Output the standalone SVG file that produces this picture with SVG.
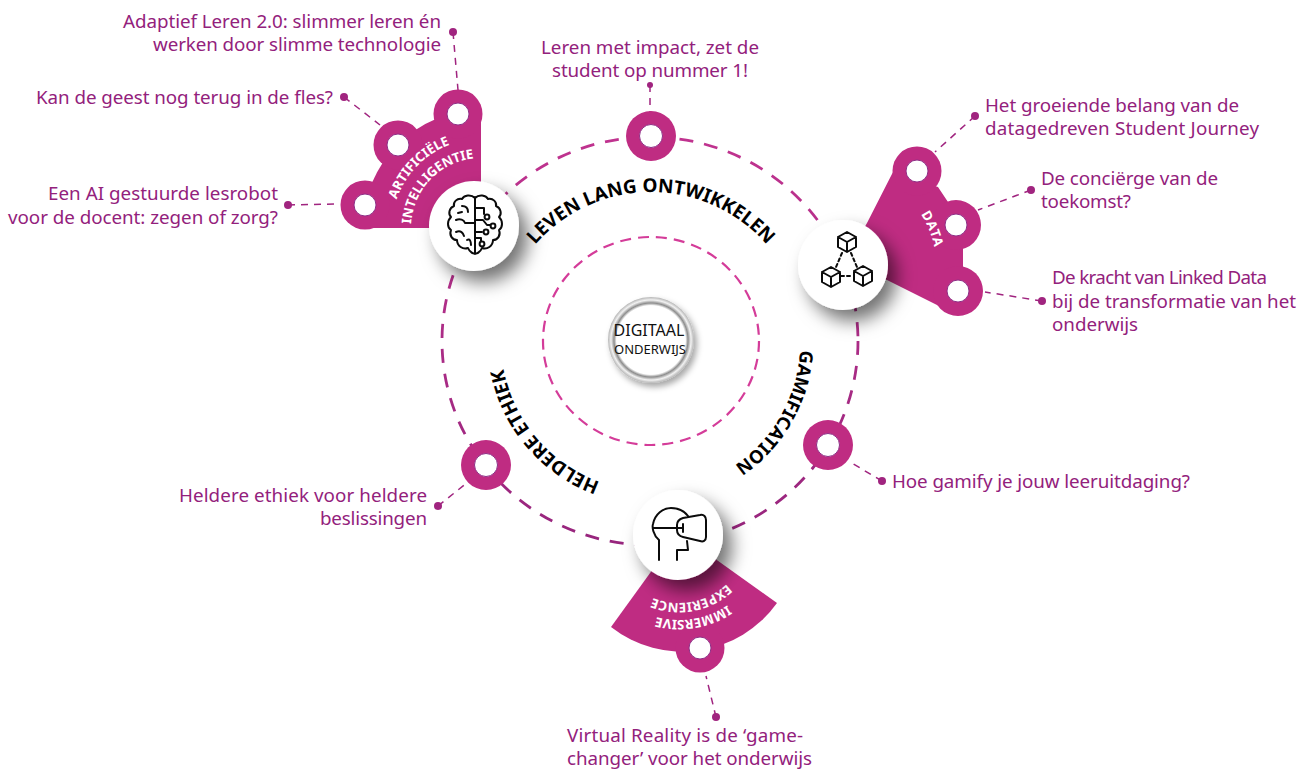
<svg xmlns="http://www.w3.org/2000/svg" width="1305" height="770" viewBox="0 0 1305 770">
<style>
.t{font-family:"Noto Sans","Open Sans",sans-serif;font-size:18.8px;fill:#93217c}
.h{font-family:"Noto Sans","Open Sans",sans-serif;font-size:19px;font-weight:700;fill:#000}
.w{font-family:"Noto Sans","Open Sans",sans-serif;font-size:13.2px;font-weight:700;fill:#fff}
.m{fill:#bf2c82}
.ring{fill:#fff;stroke:#8e2e86;stroke-width:1}
.lead{stroke:#a0247f;stroke-width:1.5;stroke-dasharray:7 6;fill:none}
.dot{fill:#a0247f}
.ic{fill:none;stroke:#0b0b0b;stroke-width:2;stroke-linecap:round;stroke-linejoin:round}
.disc{fill:#fff;filter:url(#sh)}
</style>
<defs>
<filter id="sh" x="-40%" y="-40%" width="190%" height="190%"><feDropShadow dx="9" dy="11" stdDeviation="9" flood-color="#000" flood-opacity="0.55"/></filter>
<filter id="sh2" x="-30%" y="-30%" width="170%" height="170%"><feDropShadow dx="3" dy="4" stdDeviation="3" flood-color="#000" flood-opacity="0.35"/></filter>
<radialGradient id="silver"><stop offset="0.8" stop-color="#fff"/><stop offset="0.86" stop-color="#8d8d8d"/><stop offset="0.93" stop-color="#f2f2f2"/><stop offset="1" stop-color="#b4b4b4"/></radialGradient>
<linearGradient id="outer" gradientUnits="userSpaceOnUse" x1="650" y1="137" x2="650" y2="545"><stop offset="0" stop-color="#c0338f"/><stop offset="1" stop-color="#97257d"/></linearGradient>
<path id="pLeven" d="M499 342A152 150 0 0 1 803 342"/>
<path id="pGam" d="M800 350A149 149 0 0 1 651 491"/>
<path id="pHel" d="M600 482A150 150 0 0 1 501 342"/>
<path id="pArt" d="M392 228A89 89 0 0 1 481 139"/>
<path id="pInt" d="M411 228A70 70 0 0 1 481 158"/>
<path id="pData" d="M843 172A93 93 0 0 1 843 358"/>
<path id="pExp" d="M749 533A70 70 0 0 1 609 533"/>
<path id="pImm" d="M766 533A87 87 0 0 1 592 533"/>
<g id="cube"><path class="ic" d="M0-10L9-5V5L0 10L-9 5V-5ZM-9-5L0 0L9-5M0 0V10"/></g>
</defs>

<g id="connectors">
<ellipse cx="650" cy="341" rx="208" ry="204" fill="none" stroke="url(#outer)" stroke-width="2.8" stroke-dasharray="14 11"/>
<ellipse cx="651" cy="341" rx="108" ry="104" fill="none" stroke="#d43c99" stroke-width="2.2" stroke-dasharray="11 7"/>
<path class="lead" d="M453 32L458 90"/>
<path class="lead" d="M344 97L380 125"/>
<path class="lead" d="M288 205L340 204"/>
<path class="lead" d="M650 85L650 112"/>
<path class="lead" d="M975 116L935 152"/>
<path class="lead" d="M1031 190L978 210"/>
<path class="lead" d="M1042 301L985 292"/>
<path class="lead" d="M882 481L850 462"/>
<path class="lead" d="M438 506L468 482"/>
<path class="lead" d="M716 717L706 676"/>
<circle class="dot" cx="453" cy="32" r="4"/><circle class="dot" cx="344" cy="97" r="4"/><circle class="dot" cx="288" cy="205" r="4"/>
<circle class="dot" cx="650" cy="85" r="3"/><circle class="dot" cx="975" cy="116" r="4"/><circle class="dot" cx="1031" cy="190" r="4"/>
<circle class="dot" cx="1042" cy="301" r="4"/><circle class="dot" cx="882" cy="481" r="4"/><circle class="dot" cx="438" cy="506" r="4"/><circle class="dot" cx="716" cy="717" r="4"/>
</g>

<g id="node-center">
<circle cx="651" cy="340" r="43" fill="url(#silver)" filter="url(#sh2)"/>
<text x="649" y="336" text-anchor="middle" font-family="Noto Sans,sans-serif" font-size="16" fill="#111">DIGITAAL</text>
<text x="650" y="354" text-anchor="middle" font-family="Noto Sans,sans-serif" font-size="13" fill="#111">ONDERWIJS</text>
</g>

<g id="labels-arc">
<text class="h"><textPath href="#pLeven" startOffset="50%" text-anchor="middle">LEVEN LANG ONTWIKKELEN</textPath></text>
<text class="h" style="font-size:18.3px"><textPath href="#pGam">GAMIFICATION</textPath></text>
<text class="h"><textPath href="#pHel">HELDERE ETHIEK</textPath></text>
</g>

<g id="node-top"><circle class="m" cx="651" cy="136" r="25"/><circle class="ring" cx="651" cy="136" r="11.5"/><text class="t" x="541" y="54" textLength="218">Leren met impact, zet de</text><text class="t" x="552" y="77" textLength="196">student op nummer 1!</text></g>
<g id="node-gam"><circle class="m" cx="828" cy="445" r="25"/><circle class="ring" cx="828" cy="445" r="11.5"/><text class="t" x="892" y="488" textLength="298">Hoe gamify je jouw leeruitdaging?</text></g>
<g id="node-eth"><circle class="m" cx="486" cy="465" r="25"/><circle class="ring" cx="486" cy="465" r="11.5"/><text class="t" x="179" y="502" textLength="248">Heldere ethiek voor heldere</text><text class="t" x="320" y="525" textLength="107">beslissingen</text></g>

<g id="node-ai">
<path class="m" d="M481 228V110A118 118 0 0 0 363 228Z"/>
<circle class="m" cx="458" cy="114" r="24.5"/><circle class="m" cx="398" cy="145" r="24.5"/><circle class="m" cx="365" cy="205" r="24.5"/>
<circle class="ring" cx="458" cy="114" r="11"/><circle class="ring" cx="398" cy="145" r="11"/><circle class="ring" cx="365" cy="205" r="11"/>
<text class="w"><textPath href="#pArt" startOffset="29">ARTIFICIËLE</textPath></text>
<text class="w"><textPath href="#pInt" startOffset="4">INTELLIGENTIE</textPath></text>
<circle class="disc" cx="474" cy="226" r="45"/>
<path class="ic" d="M475 197V254M475 198C471 194 464 195 462 199C457 198 453 202 454 206C449 208 448 214 451 217C447 221 447 227 451 230C449 235 452 240 457 240C457 246 463 250 468 248C470 253 474 254 475 253M475 198C479 194 486 195 488 199C493 198 497 202 496 206C501 208 502 214 499 217C503 221 503 227 499 230C501 235 498 240 493 240C493 246 487 250 482 248C480 253 476 254 475 253"/>
<path class="ic" d="M475 208H484V214M475 220H483L487 225H490M475 232H482M475 238H481V241M462 206C466 206 468 208 468 212M456 220C460 218 464 220 465 223H475M456 232C461 230 463 233 464 236M467 240C470 238 471 242 471 245M462 212L458 213"/>
<circle class="ic" cx="487" cy="217" r="2.4"/><circle class="ic" cx="493" cy="226" r="2.4"/><circle class="ic" cx="486" cy="232" r="2.4"/><circle class="ic" cx="482" cy="244" r="2.4"/>
<text class="t" x="123" y="28" textLength="318">Adaptief Leren 2.0: slimmer leren én</text>
<text class="t" x="153" y="51" textLength="288">werken door slimme technologie</text>
<text class="t" x="36" y="104" textLength="297">Kan de geest nog terug in de fles?</text>
<text class="t" x="48" y="200" textLength="230">Een AI gestuurde lesrobot</text>
<text class="t" x="8" y="224" textLength="270">voor de docent: zegen of zorg?</text>
</g>

<g id="node-data">
<path class="m" d="M893 172L867 223L843 265L887 280L947 310L963 268V247L948 202L938 187Z"/>
<circle class="m" cx="917" cy="171" r="24.5"/><circle class="m" cx="956" cy="225" r="25"/><circle class="m" cx="958" cy="291" r="25"/>
<circle class="ring" cx="917" cy="171" r="11"/><circle class="ring" cx="956" cy="225" r="11"/><circle class="ring" cx="958" cy="291" r="11"/>
<text class="w" style="letter-spacing:.8px"><textPath href="#pData" startOffset="92">DATA</textPath></text>
<circle class="disc" cx="843" cy="265" r="45"/>
<use href="#cube" x="847" y="242"/><use href="#cube" x="831" y="277"/><use href="#cube" x="863" y="276"/>
<path class="ic" stroke-dasharray="3 3" d="M842 253L836 267M851 253L857 267M841 276H853"/>
<text class="t" x="985" y="112" textLength="254">Het groeiende belang van de</text>
<text class="t" x="985" y="135" textLength="274">datagedreven Student Journey</text>
<text class="t" x="1041" y="185" textLength="177">De conciërge van de</text>
<text class="t" x="1041" y="208" textLength="90">toekomst?</text>
<text class="t" x="1052" y="284" textLength="215">De kracht van Linked Data</text>
<text class="t" x="1052" y="308" textLength="244">bij de transformatie van het</text>
<text class="t" x="1052" y="331" textLength="86">onderwijs</text>
</g>

<g id="node-vr">
<path class="m" d="M679 533L777 603A116 116 0 0 1 611 627Z"/>
<circle class="m" cx="700" cy="648" r="24.5"/><circle class="ring" cx="700" cy="648" r="11"/>
<text class="w"><textPath href="#pExp" startOffset="57">EXPERIENCE</textPath></text>
<text class="w"><textPath href="#pImm" startOffset="85">IMMERSIVE</textPath></text>
<circle class="disc" cx="678" cy="535" r="45"/>
<path class="ic" d="M659 560V540C653 535 652 527 653 524C655 514 663 508 671 508C679 508 685 512 688 516M653 528H683M683 524V532M677 525C677 521 680 519 683 518L700 515C704 514 706 517 706 520V537C706 541 703 542 700 541L683 537C679 536 677 533 677 530ZM687 541L688 550H677V560"/>
<text class="t" x="567" y="742" textLength="236">Virtual Reality is de ‘game-</text>
<text class="t" x="567" y="765" textLength="245">changer’ voor het onderwijs</text>
</g>
</svg>
